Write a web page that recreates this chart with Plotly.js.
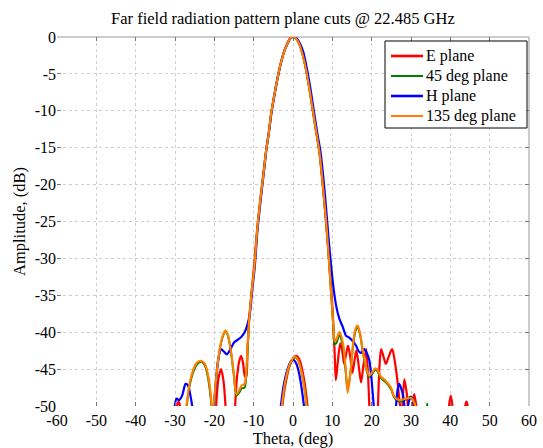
<!DOCTYPE html>
<html>
<head>
<meta charset="utf-8">
<script src="https://cdn.plot.ly/plotly-3.0.1.min.js"></script>
<style>html,body{margin:0;padding:0;background:#fff;}#chart{width:543px;height:448px;}</style>
</head>
<body>
<div id="chart"></div>
<script>
// ---- Data ----
const seriesNames = ["E plane", "45 deg plane", "H plane", "135 deg plane"];

const eTheta = [-60, -30.5, -29.6, -29.1, -28.6, -28.0, -20.2, -19.6, -19.0, -18.3, -17.7, -17.1, -16.6, -15.3, -14.8, -14.3, -13.7, -13.2, -12.7, -12.2, -11.9, -11.6, -11.2, -10.6, -9.9, -9.1, -8.3, -7.6, -6.8, -6.1, -5.5, -4.9, -4.1, -3.2, -2.4, -1.4, -0.6, 0.2, 1.0, 1.8, 2.6, 3.4, 4.2, 5.0, 5.8, 6.6, 7.3, 7.9, 8.5, 9.0, 9.5, 9.9, 10.3, 10.6, 10.9, 11.4, 12.0, 12.5, 13.0, 13.5, 14.0, 14.6, 15.1, 15.6, 16.1, 16.7, 17.3, 17.9, 18.6, 19.0, 19.4, 19.8, 21.2, 21.6, 22.0, 22.4, 23.0, 23.6, 24.4, 25.2, 25.9, 26.6, 27.1, 27.6, 28.3, 28.9, 29.5, 30.1, 30.8, 31.4, 32, 39.0, 39.6, 40.1, 40.6, 41.1, 43.4, 43.8, 44.1, 44.4, 44.8, 60];
const eDb = [-60, -56, -50.3, -49.4, -50.3, -56, -56, -50.5, -46.5, -45.0, -46.5, -50.5, -57, -57, -51, -46.5, -44, -43.2, -44.2, -46, -46, -43, -38.6, -35, -31, -26, -22, -18.8, -15.2, -12.8, -10.3, -8.4, -6.1, -3.8, -2.2, -0.8, -0.1, 0, -0.35, -1.2, -2.6, -4.6, -7.1, -9.9, -12.6, -15.2, -18.6, -22, -25.8, -29, -32.5, -35.5, -39.5, -43, -46.5, -44, -41.5, -42.5, -44.3, -43, -41.8, -43.5, -45.5, -44, -42.5, -44.5, -46.8, -44.5, -42.3, -45, -50, -57, -57, -50, -44.5, -42.3, -43.3, -44.3, -43.2, -42.3, -44, -46.8, -49.5, -51, -46.4, -48.2, -50.8, -50.8, -48.4, -50.3, -57, -57, -50.3, -48.6, -50.3, -57, -57, -50, -49.4, -50, -57, -60];
const eBackTheta = [-3.2, -2.6, -2.0, -1.0, 0.0, 0.9, 1.7, 2.5, 3.2, 3.8, 4.4];
const eBackDb = [-53, -49.5, -47.3, -44.8, -43.6, -43.2, -43.8, -45.5, -47.8, -50.6, -54];

const p45Theta = [-60, -31, -28, -27.1, -26.3, -25.3, -24.3, -23.3, -22.4, -21.6, -20.9, -20.4, -20.0, -19.4, -18.6, -17.8, -17.2, -16.6, -15.8, -15.0, -14.4, -13.8, -13.0, -12.3, -11.9, -11.5, -11.1, -10.5, -9.8, -9.0, -8.3, -7.6, -6.8, -6.2, -5.6, -5.0, -4.2, -3.3, -2.5, -1.5, -0.7, 0.1, 0.9, 1.7, 2.5, 3.3, 4.1, 5.0, 5.8, 6.7, 7.4, 8.0, 8.5, 9.1, 9.6, 10.0, 10.3, 10.6, 11.0, 11.8, 12.7, 13.4, 13.9, 14.5, 15.2, 15.8, 16.4, 17.0, 17.7, 18.5, 19.4, 20.2, 20.9, 21.5, 22.3, 23.6, 24.9, 25.7, 27.0, 28.7, 30.0, 30.8, 31.4, 32.5, 33.6, 34.1, 34.6, 60];
const p45Db = [-60, -60, -53, -50.2, -47.3, -45.3, -44.3, -44.0, -44.5, -46.2, -49, -52, -49.3, -45.7, -42.3, -40.5, -39.9, -40.4, -42.6, -46, -48.6, -48.3, -47.6, -47.5, -46, -41.8, -38.2, -34.6, -31.1, -25.6, -22, -19, -15.3, -13.2, -10.5, -8.6, -6.3, -4.0, -2.4, -1.0, -0.2, 0, -0.3, -1.1, -2.5, -4.4, -6.8, -9.8, -12.5, -15.5, -19, -22.5, -25.5, -30, -34, -37.2, -39.8, -41.6, -41.5, -40.4, -42, -45.4, -47.8, -46, -42.2, -40, -39.3, -40.2, -42.5, -44.8, -46.1, -45.6, -45.1, -45.3, -46.2, -46.8, -47.7, -48.8, -49.4, -49.1, -48.7, -49.4, -50.8, -60, -52, -49.7, -52, -60];
const p45BackTheta = [-3.5, -2.8, -2.0, -1.0, 0.0, 0.5, 1.3, 2.1, 2.9, 3.5, 4.1];
const p45BackDb = [-53, -49.8, -46.9, -44.7, -43.6, -43.4, -43.8, -45.2, -47.5, -50, -53];

const hTheta = [-60, -31, -30.2, -29.6, -29.0, -28.2, -27.3, -26.7, -26.0, -25.4, -24.8, -21.0, -20.3, -19.7, -19.1, -18.3, -17.6, -16.8, -16.0, -15.0, -14.0, -13.1, -12.3, -11.6, -11.0, -10.4, -9.7, -9.0, -8.2, -7.5, -6.7, -6.1, -5.5, -4.9, -4.1, -3.2, -2.4, -1.4, -0.6, 0.2, 1.0, 1.8, 2.6, 3.5, 4.4, 5.3, 6.2, 7.0, 7.7, 8.3, 9.0, 9.7, 10.3, 11.0, 11.8, 12.6, 13.5, 14.2, 15.0, 16.0, 16.7, 17.3, 18.1, 18.8, 19.4, 19.9, 20.3, 20.8, 21.5, 25.5, 26.2, 26.6, 27.0, 27.5, 28.0, 28.5, 29.0, 29.5, 30.0, 30.5, 31.0, 32, 60];
const hDb = [-60, -56, -50.5, -49.0, -49.2, -48.6, -47.0, -47.2, -48.8, -51, -58, -58, -51, -47.5, -44, -42.3, -42.6, -43.0, -42.4, -41.4, -41.0, -40.6, -40.0, -39.0, -37.6, -34.5, -31, -26, -22, -18.8, -15, -12.8, -10.3, -8.4, -6.0, -3.8, -2.2, -0.9, -0.15, 0, -0.25, -0.9, -2.0, -4.2, -6.9, -10, -13.1, -15.6, -19, -22.5, -27, -31, -34, -36.5, -38.2, -39.2, -40.5, -40.7, -41.1, -41.8, -42.6, -42.8, -42.3, -42.9, -43.8, -46, -48.5, -52, -58, -58, -50, -47.8, -47.0, -47.6, -48.6, -50.3, -50.5, -49.3, -48.8, -49.2, -50.5, -58, -60];
const hBackTheta = [-3.8, -3.1, -2.4, -1.5, -0.5, 0.0, 0.8, 1.6, 2.3, 2.9, 3.4];
const hBackDb = [-53, -50, -47.3, -45.2, -43.9, -43.7, -44.2, -45.7, -48, -50.5, -53];

const p135Theta = [-60, -31, -28, -27.1, -26.3, -25.3, -24.3, -23.3, -22.4, -21.6, -20.9, -20.4, -20.0, -19.4, -18.6, -17.8, -17.2, -16.6, -15.8, -15.0, -14.4, -13.8, -13.0, -12.3, -11.9, -11.5, -11.1, -10.5, -9.8, -9.0, -8.3, -7.6, -6.8, -6.2, -5.6, -5.0, -4.2, -3.3, -2.5, -1.5, -0.7, 0.1, 0.9, 1.7, 2.5, 3.3, 4.1, 5.0, 5.8, 6.7, 7.4, 8.0, 8.5, 9.1, 9.6, 10.0, 10.3, 10.6, 11.0, 11.8, 12.7, 13.4, 13.9, 14.5, 15.2, 15.8, 16.4, 17.0, 17.7, 18.5, 19.4, 20.2, 20.9, 21.5, 22.3, 23.6, 24.9, 25.7, 27.0, 28.7, 30.0, 30.8, 31.4, 32.5, 60];
const p135Db = [-60, -60, -53, -50, -47, -45, -44.1, -43.9, -44.3, -45.8, -48.5, -52, -49, -45.5, -42.2, -40.4, -39.8, -40.3, -42.5, -45.8, -48.4, -48.0, -47.2, -47.0, -45.5, -41.5, -38, -34.5, -31, -25.5, -22, -19, -15.3, -13.2, -10.5, -8.6, -6.3, -4.0, -2.4, -1.0, -0.2, 0, -0.3, -1.1, -2.5, -4.4, -6.8, -9.8, -12.5, -15.5, -19, -22.5, -25.5, -30, -34, -37, -39.5, -41.2, -41.0, -40.0, -41.5, -45, -48.2, -46, -42, -39.7, -39.1, -40, -42.3, -44.6, -45.9, -45.4, -44.9, -45.1, -46.0, -46.6, -47.5, -48.7, -49.2, -49.0, -48.9, -49.5, -51, -60, -60];
const p135BackTheta = [-3.5, -2.8, -2.0, -1.0, 0.0, 0.4, 1.2, 2.0, 2.8, 3.4, 4.0];
const p135BackDb = [-53, -49.8, -46.8, -44.6, -43.5, -43.3, -43.7, -45.0, -47.3, -49.8, -53];

const xTickVals = [-60, -50, -40, -30, -20, -10, 0, 10, 20, 30, 40, 50, 60];
const xTickText = ["-60", "-50", "-40", "-30", "-20", "-10", "0", "10", "20", "30", "40", "50", "60"];
const yTickVals = [0, -5, -10, -15, -20, -25, -30, -35, -40, -45, -50];
const yTickText = ["0", "-5", "-10", "-15", "-20", "-25", "-30", "-35", "-40", "-45", "-50"];

const chartTitle = "Far field radiation pattern plane cuts @ 22.485 GHz";
const xTitle = "Theta, (deg)";
const yTitle = "Amplitude, (dB)";

// ---- Styling ----
const colors = ["#ff0000", "#008000", "#0000ff", "#ff8000"];
const widths = [2.2, 2, 2.2, 2.2];
const legendWidths = [2.6, 2, 2.6, 2];
const FONT = "Liberation Serif, Times New Roman, serif";
const W = 543, H = 448;
const M = {l: 57, r: 14, t: 37, b: 42};
const PW = W - M.l - M.r, PH = H - M.t - M.b;
const px2x = p => (p - M.l) / PW;          // pixel -> paper x
const px2y = p => 1 - (p - M.t) / PH;      // pixel -> paper y

const mains = [[eTheta, eDb], [p45Theta, p45Db], [hTheta, hDb], [p135Theta, p135Db]];
const backs = [[eBackTheta, eBackDb], [p45BackTheta, p45BackDb], [hBackTheta, hBackDb], [p135BackTheta, p135BackDb]];

const traces = [];
for (let i = 0; i < 4; i++) {
  traces.push({
    x: mains[i][0], y: mains[i][1], type: "scatter", mode: "lines",
    name: seriesNames[i], legendgroup: "g" + i, showlegend: false,
    line: {color: colors[i], width: widths[i], shape: "spline", smoothing: 0.8}
  });
  traces.push({
    x: backs[i][0], y: backs[i][1], type: "scatter", mode: "lines",
    name: seriesNames[i], legendgroup: "g" + i, showlegend: false,
    line: {color: colors[i], width: widths[i], shape: "spline", smoothing: 0.8}
  });
}

// ---- Legend box (drawn as shapes + text) ----
const legBox = {x0: 385, x1: 527, y0: 41, y1: 128};
const rowY0 = 56, rowStep = 20;
const shapes = [
  {type: "line", xref: "x domain", yref: "y domain", x0: 0, x1: 1, y0: 1, y1: 1,
   line: {color: "#999", width: 1}, layer: "below"},
  {type: "line", xref: "x domain", yref: "y domain", x0: 1, x1: 1, y0: 0, y1: 1,
   line: {color: "#999", width: 1}, layer: "below"},
  {type: "rect", xref: "paper", yref: "paper",
   x0: px2x(legBox.x0), x1: px2x(legBox.x1), y0: px2y(legBox.y1), y1: px2y(legBox.y0),
   fillcolor: "#ffffff", line: {color: "#000000", width: 1}, layer: "above"}
];
const annotations = [];
seriesNames.forEach((nm, i) => {
  const yy = rowY0 + i * rowStep;
  shapes.push({type: "line", xref: "paper", yref: "paper",
    x0: px2x(391), x1: px2x(423), y0: px2y(yy), y1: px2y(yy),
    line: {color: colors[i], width: legendWidths[i]}, layer: "above"});
  annotations.push({text: nm, xref: "paper", yref: "paper", x: px2x(424), y: px2y(yy),
    xanchor: "left", yanchor: "middle", showarrow: false,
    font: {family: FONT, size: 16, color: "#000"}});
});

const gridColor = "#cfcfcf";
const layout = {
  width: W, height: H,
  margin: {l: M.l, r: M.r, t: M.t, b: M.b, pad: 0},
  paper_bgcolor: "#ffffff", plot_bgcolor: "#ffffff",
  font: {family: FONT, size: 16, color: "#000000"},
  title: {text: chartTitle, font: {family: FONT, size: 16.5, color: "#000"},
          x: 0.521, xref: "container", xanchor: "center",
          y: 1 - 18 / H, yref: "container", yanchor: "middle"},
  showlegend: false,
  xaxis: {
    range: [-60, 60], tickmode: "array", tickvals: xTickVals, ticktext: xTickText,
    showgrid: true, gridcolor: gridColor, griddash: "dot", gridwidth: 1,
    zeroline: false, showline: false, mirror: "ticks",
    ticks: "inside", ticklen: 4, tickcolor: "#777", tickwidth: 1,
    tickfont: {family: FONT, size: 16, color: "#000"}, ticklabelstandoff: 3,
    title: {text: xTitle, font: {family: FONT, size: 16.5, color: "#000"}, standoff: 4},
    automargin: false, fixedrange: true
  },
  yaxis: {
    range: [-50, 0], tickmode: "array", tickvals: yTickVals, ticktext: yTickText,
    showgrid: true, gridcolor: gridColor, griddash: "dot", gridwidth: 1,
    zeroline: false, showline: false, mirror: "ticks",
    ticks: "inside", ticklen: 4, tickcolor: "#777", tickwidth: 1,
    tickfont: {family: FONT, size: 16, color: "#000"},
    title: {text: yTitle, font: {family: FONT, size: 16.5, color: "#000"}, standoff: 4},
    automargin: false, fixedrange: true
  },
  shapes: shapes,
  annotations: annotations
};

Plotly.newPlot("chart", traces, layout, {staticPlot: true, displayModeBar: false});
</script>
</body>
</html>
